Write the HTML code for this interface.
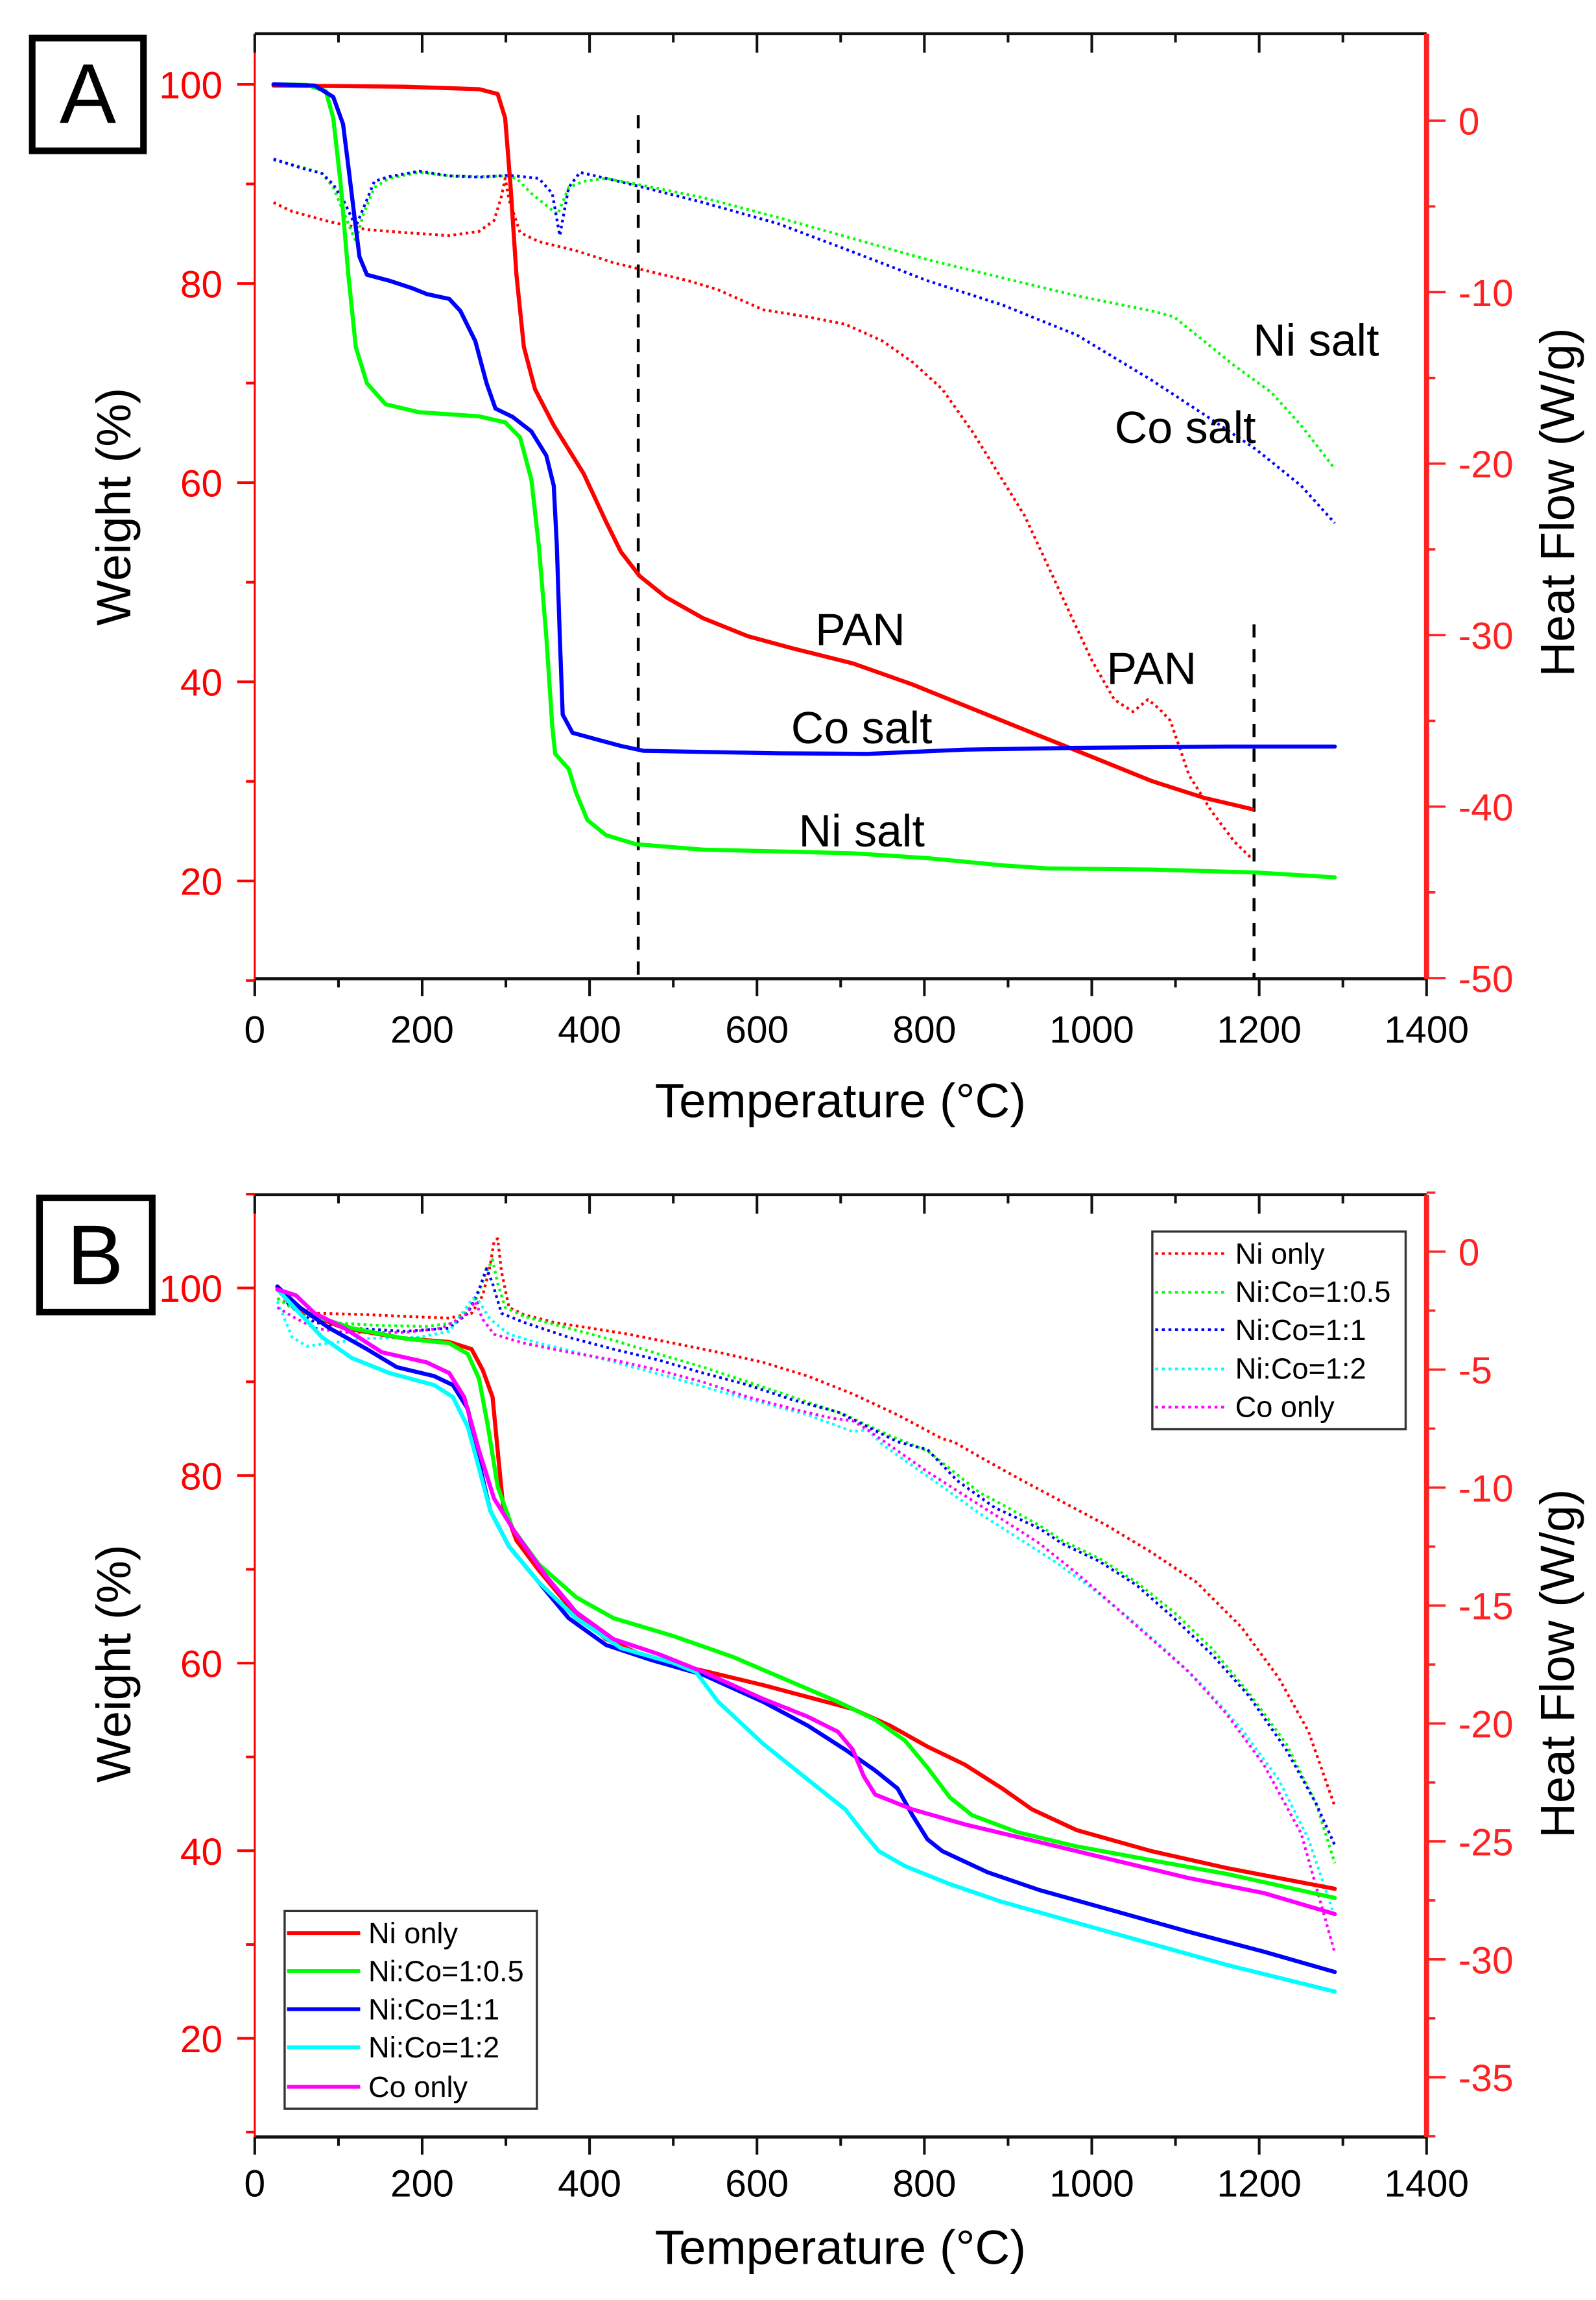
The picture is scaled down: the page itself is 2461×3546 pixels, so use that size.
<!DOCTYPE html>
<html><head><meta charset="utf-8">
<style>
html,body{margin:0;padding:0;background:#fff;}
svg{display:block;}
text{font-family:"Liberation Sans",Arial,sans-serif;}
</style></head>
<body>
<svg id="s" xmlns="http://www.w3.org/2000/svg" width="2461" height="3546" viewBox="0 0 1090 1570.6" preserveAspectRatio="none">
<rect x="0" y="0" width="1090" height="1570.6" fill="#fff"/>
<g id="axes"></g>
<g id="curves" fill="none" stroke-linejoin="round"></g>

<rect x="22" y="26" width="76" height="77" fill="#fff" stroke="#000" stroke-width="4.5"/>
<text x="60" y="84" font-size="58" text-anchor="middle">A</text>
<rect x="27" y="818" width="77" height="78" fill="#fff" stroke="#000" stroke-width="4.5"/>
<text x="65" y="877" font-size="58" text-anchor="middle">B</text>

<text x="574" y="763" font-size="33" text-anchor="middle">Temperature (°C)</text>
<text x="574" y="1546" font-size="33" text-anchor="middle">Temperature (°C)</text>
<text transform="translate(89,346) rotate(-90)" font-size="33" text-anchor="middle">Weight (%)</text>
<text transform="translate(89,1136) rotate(-90)" font-size="33" text-anchor="middle">Weight (%)</text>
<text transform="translate(1075,343) rotate(-90)" font-size="33" text-anchor="middle">Heat Flow (W/g)</text>
<text transform="translate(1075,1136) rotate(-90)" font-size="33" text-anchor="middle">Heat Flow (W/g)</text>

<g font-size="31" text-anchor="middle">
<text x="587.5" y="440.5">PAN</text>
<text x="786.5" y="467">PAN</text>
<text x="588.5" y="507.5">Co salt</text>
<text x="588.5" y="578">Ni salt</text>
<text x="898.8" y="243">Ni salt</text>
<text x="809.5" y="302.5">Co salt</text>
</g>

<rect x="787" y="841" width="173" height="135" fill="#fff" stroke="#333" stroke-width="1.5"/>
<g font-size="20">
<text x="843.6" y="863">Ni only</text>
<text x="843.6" y="889">Ni:Co=1:0.5</text>
<text x="843.6" y="915">Ni:Co=1:1</text>
<text x="843.6" y="941.5">Ni:Co=1:2</text>
<text x="843.6" y="967.5">Co only</text>
</g>
<g fill="none" stroke-width="1.8" stroke-dasharray="2 2.5">
<line x1="789" y1="856" x2="837" y2="856" stroke="#f00"/>
<line x1="789" y1="882.5" x2="837" y2="882.5" stroke="#0f0"/>
<line x1="789" y1="908" x2="837" y2="908" stroke="#00f"/>
<line x1="789" y1="934.8" x2="837" y2="934.8" stroke="#0ff"/>
<line x1="789" y1="960.9" x2="837" y2="960.9" stroke="#f0f"/>
</g>
<rect x="194.4" y="1305" width="172.3" height="135" fill="#fff" stroke="#333" stroke-width="1.5"/>
<g font-size="20">
<text x="251.6" y="1327">Ni only</text>
<text x="251.6" y="1353">Ni:Co=1:0.5</text>
<text x="251.6" y="1379">Ni:Co=1:1</text>
<text x="251.6" y="1405">Ni:Co=1:2</text>
<text x="251.6" y="1432">Co only</text>
</g>
<g fill="none" stroke-width="2.6">
<line x1="196" y1="1320" x2="246" y2="1320" stroke="#f00"/>
<line x1="196" y1="1346" x2="246" y2="1346" stroke="#0f0"/>
<line x1="196" y1="1372" x2="246" y2="1372" stroke="#00f"/>
<line x1="196" y1="1398" x2="246" y2="1398" stroke="#0ff"/>
<line x1="196" y1="1425" x2="246" y2="1425" stroke="#f0f"/>
</g>
</svg>
<script>
(function(){
var NS="http://www.w3.org/2000/svg";
var ax=document.getElementById("axes"), cv=document.getElementById("curves");
function el(tag,attrs,parent,txt){var e=document.createElementNS(NS,tag);for(var k in attrs)e.setAttribute(k,attrs[k]);if(txt!==undefined)e.textContent=txt;(parent||ax).appendChild(e);return e;}
var L=174,R=974.3;
function xT(t){return L+t*(R-L)/1400;}
function panel(top,bot,yL,leftVals,leftMinorVals,yR,rightMajor,rightMinor,xlabY){
  el("line",{x1:L,y1:top,x2:R,y2:top,stroke:"#111","stroke-width":2});
  el("line",{x1:L,y1:bot,x2:R,y2:bot,stroke:"#111","stroke-width":2.2});
  for(var t=0;t<=1400;t+=100){
    var maj=(t%200==0);
    var x=xT(t);
    el("line",{x1:x,y1:bot,x2:x,y2:bot+(maj?12:6),stroke:"#111","stroke-width":1.8});
    el("line",{x1:x,y1:top,x2:x,y2:top+(maj?13:6),stroke:"#111","stroke-width":1.8});
    if(maj) el("text",{x:x,y:xlabY,"font-size":26,"text-anchor":"middle"},ax,String(t));
  }
  el("line",{x1:L,y1:top+13,x2:L,y2:bot,stroke:"#f00","stroke-width":1.4});
  leftVals.forEach(function(v){var y=yL(v);el("line",{x1:L-12,y1:y,x2:L,y2:y,stroke:"#f00","stroke-width":1.8});
    el("text",{x:152,y:y+9.5,"font-size":26,"text-anchor":"end",fill:"#f00"},ax,String(v));});
  leftMinorVals.forEach(function(v){var y=yL(v);el("line",{x1:L-6,y1:y,x2:L,y2:y,stroke:"#f00","stroke-width":1.8});});
  el("line",{x1:R,y1:top,x2:R,y2:bot,stroke:"#f22","stroke-width":3.5});
  rightMajor.forEach(function(v){var y=yR(v);el("line",{x1:R,y1:y,x2:R+13,y2:y,stroke:"#f22","stroke-width":1.6});
    el("text",{x:996,y:y+9.5,"font-size":26,fill:"#f22"},ax,(v<0?"-":"")+Math.abs(v));});
  rightMinor.forEach(function(v){var y=yR(v);el("line",{x1:R,y1:y,x2:R+6,y2:y,stroke:"#f22","stroke-width":1.6});});
}
panel(23,668.3,function(v){return 57.6+(100-v)*6.8;},[100,80,60,40,20],[90,70,50,30,10],
  function(h){return 82.4-h*11.71;},[0,-10,-20,-30,-40,-50],[-5,-15,-25,-35,-45],712);
panel(815.8,1459.3,function(v){return 879.5+(100-v)*6.405;},[100,80,60,40,20],[110,90,70,50,30,10],
  function(h){return 854.7-h*16.11;},[0,-5,-10,-15,-20,-25,-30,-35],[2.5,-2.5,-7.5,-12.5,-17.5,-22.5,-27.5,-32.5,-37.5],1500);

function tA(p){return (174.05+p[0]*0.5104).toFixed(1)+","+(23.03+p[1]*0.4115).toFixed(1);}
function tB(p){return (174.05+p[0]*0.5104).toFixed(1)+","+(819.3+p[1]*0.4081).toFixed(1);}
function curve(pts,f,col,dotted){
  var d="M"+pts.map(f).join(" L");
  var a={d:d,stroke:col,"stroke-width":dotted?1.9:2.8,"stroke-linecap":dotted?"butt":"round"};
  if(dotted)a["stroke-dasharray"]="1.8 2.4";
  el("path",a,cv);
}
el("line",{x1:174.05+513*0.5104,y1:23.03+135*0.4115,x2:174.05+513*0.5104,y2:668,stroke:"#000","stroke-width":2,"stroke-dasharray":"9 8"},cv);
el("line",{x1:174.05+1337*0.5104,y1:23.03+980*0.4115,x2:174.05+1337*0.5104,y2:668,stroke:"#000","stroke-width":2,"stroke-dasharray":"9 8"},cv);

curve([[25,280],[50,295],[100,312],[150,325],[200,330],[260,335],[300,328],[320,310],[330,270],[335,240],[340,275],[355,330],[380,345],[430,360],[480,380],[530,395],[580,410],[620,425],[680,458],[740,470],[790,482],[840,510],[880,545],[920,590],[960,660],[1000,740],[1030,800],[1060,880],[1090,960],[1120,1040],[1150,1105],[1175,1125],[1195,1105],[1210,1120],[1225,1140],[1250,1230],[1280,1290],[1310,1340],[1335,1370]],tA,"#f00",1);
curve([[25,210],[60,220],[90,232],[105,255],[120,300],[135,345],[145,300],[160,255],[180,240],[220,230],[260,236],[300,237],[335,236],[350,240],[370,265],[390,285],[405,300],[420,255],[440,245],[470,240],[520,252],[600,272],[700,305],[800,340],[900,375],[1000,405],[1100,435],[1200,460],[1230,470],[1270,510],[1310,550],[1360,595],[1400,650],[1445,722]],tA,"#0f0",1);
curve([[25,208],[60,222],[90,232],[105,250],[120,280],[135,320],[145,290],[160,245],[180,237],[220,228],[260,236],[300,238],[340,235],[380,240],[398,265],[408,335],[420,255],[435,230],[470,240],[520,255],[600,280],[700,315],[800,362],[900,410],[1000,450],[1100,500],[1200,575],[1280,640],[1340,690],[1400,750],[1445,812]],tA,"#00f",1);
curve([[25,86],[200,88],[300,92],[325,100],[335,140],[342,250],[350,400],[360,520],[375,590],[400,650],[440,730],[470,810],[490,860],[515,900],[550,935],[600,970],[660,1000],[720,1020],[800,1045],[880,1080],[960,1120],[1040,1160],[1120,1200],[1200,1240],[1270,1268],[1335,1287]],tA,"#f00");
curve([[25,84],[70,85],[95,95],[105,140],[115,250],[125,400],[135,520],[150,580],[175,615],[220,628],[300,635],[335,645],[355,670],[370,740],[380,850],[390,1000],[398,1150],[402,1195],[420,1220],[430,1260],[445,1305],[470,1330],[510,1345],[600,1354],[700,1357],[800,1360],[900,1368],[1000,1380],[1060,1385],[1200,1387],[1340,1392],[1445,1400]],tA,"#0f0");
curve([[25,84],[80,86],[105,105],[118,150],[125,220],[133,300],[140,370],[150,400],[180,410],[210,422],[230,432],[260,440],[275,460],[295,510],[310,580],[322,622],[345,636],[370,660],[390,700],[400,750],[404,850],[408,1000],[412,1130],[425,1160],[460,1172],[490,1182],[520,1190],[700,1194],[820,1195],[950,1188],[1100,1185],[1300,1183],[1445,1183]],tA,"#00f");

curve([[30,165],[50,178],[80,190],[150,192],[200,195],[260,198],[290,190],[305,160],[315,110],[320,70],[325,65],[330,120],[340,180],[360,192],[400,205],[450,215],[500,225],[560,240],[620,255],[680,272],[740,295],[800,325],[860,360],[920,400],[935,405],[970,430],[1020,465],[1080,505],[1140,545],[1200,590],[1260,640],[1320,715],[1370,800],[1410,890],[1445,1015]],tB,"#f00",1);
curve([[30,165],[60,190],[100,205],[160,210],[230,212],[270,205],[295,170],[310,120],[318,100],[325,140],[335,180],[360,195],[420,215],[480,235],[540,258],[600,280],[660,305],[720,330],[790,360],[850,395],[900,420],[940,460],[970,490],[1000,510],[1050,545],[1080,570],[1130,600],[1180,640],[1230,690],[1280,750],[1330,825],[1380,910],[1420,1010],[1445,1110]],tB,"#0f0",1);
curve([[30,145],[45,175],[80,205],[130,215],[200,220],[260,215],[285,190],[300,150],[310,115],[318,140],[330,190],[360,205],[420,230],[480,250],[540,268],[600,290],[660,310],[720,335],[780,355],[820,380],[860,405],[900,418],[940,470],[990,515],[1050,550],[1080,575],[1130,605],[1180,645],[1230,700],[1280,760],[1330,830],[1380,920],[1420,1010],[1445,1080]],tB,"#00f",1);
curve([[30,170],[50,230],[70,245],[100,240],[150,232],[220,230],[260,220],[280,185],[292,165],[300,170],[315,200],[340,225],[380,240],[440,258],[500,278],[560,298],[620,320],[680,340],[740,360],[800,388],[820,385],[840,410],[880,445],[920,480],[970,525],[1020,565],[1070,605],[1120,650],[1170,700],[1220,755],[1270,815],[1320,885],[1370,970],[1410,1070],[1445,1200]],tB,"#0ff",1);
curve([[30,180],[50,195],[80,215],[120,222],[200,222],[250,215],[280,195],[295,170],[305,200],[320,225],[360,240],[420,255],[480,268],[540,285],[600,305],[660,330],[720,350],[770,365],[800,370],[820,385],[860,420],[900,455],[950,495],[1000,535],[1050,575],[1100,625],[1150,680],[1200,735],[1250,790],[1300,860],[1350,945],[1400,1060],[1445,1260]],tB,"#f0f",1);
curve([[30,148],[60,185],[120,215],[200,232],[260,238],[290,250],[305,285],[318,330],[325,420],[332,510],[350,570],[380,620],[420,680],[470,735],[530,768],[600,788],[680,812],[740,832],[800,852],[850,880],[900,915],[950,945],[1000,985],[1040,1020],[1100,1055],[1200,1090],[1300,1118],[1445,1153]],tB,"#f00");
curve([[30,148],[70,190],[130,215],[200,232],[260,240],[285,258],[300,300],[312,380],[325,480],[345,550],[380,610],[430,665],[480,700],[560,730],[640,765],[720,808],[780,840],[830,870],[870,905],[900,950],[930,1000],[960,1030],[1020,1058],[1100,1082],[1200,1105],[1300,1128],[1445,1168]],tB,"#0f0");
curve([[30,145],[60,180],[100,215],[150,250],[190,280],[240,295],[265,310],[285,350],[300,440],[315,520],[340,580],[380,640],[420,700],[470,745],[530,770],[600,795],[680,840],[740,880],[790,920],[830,955],[860,985],[880,1030],[900,1070],[920,1090],[980,1125],[1050,1155],[1150,1190],[1250,1225],[1350,1258],[1445,1292]],tB,"#00f");
curve([[30,150],[60,190],[90,230],[130,265],[180,290],[240,310],[265,330],[285,380],[300,450],[315,520],[340,580],[380,640],[430,700],[490,750],[560,775],[590,790],[620,840],[680,910],[740,970],[790,1020],[815,1060],[835,1090],[870,1115],[930,1145],[1000,1175],[1100,1210],[1200,1245],[1300,1280],[1445,1325]],tB,"#0ff");
curve([[30,150],[55,160],[80,190],[120,215],[170,255],[230,272],[260,290],[280,330],[300,420],[320,500],[350,560],[390,630],[430,690],[480,735],[540,760],[600,790],[680,835],[740,865],[780,890],[800,920],[815,965],[830,995],[880,1020],[950,1045],[1050,1075],[1150,1105],[1250,1135],[1350,1160],[1445,1195]],tB,"#f0f");
})();
</script>
</body></html>
